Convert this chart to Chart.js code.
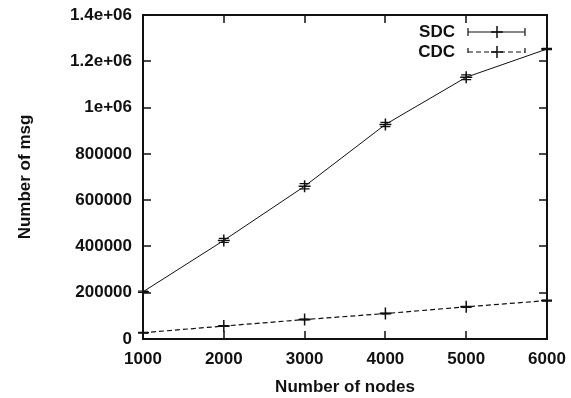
<!DOCTYPE html>
<html>
<head>
<meta charset="utf-8">
<script src="https://cdn.jsdelivr.net/npm/chart.js@4"></script>
<style>
  html, body { margin: 0; padding: 0; background: #fff; }
  #wrap { width: 571px; height: 398px; }
</style>
</head>
<body>
<div id="wrap"><canvas id="chart" width="571" height="398"></canvas></div>
<script>
// values
const nodes = [1000, 2000, 3000, 4000, 5000, 6000];
const sdcMsg = [204000, 426000, 660000, 927000, 1131000, 1253000];
const sdcErr = [3000, 9000, 11000, 9000, 10000, 3000];
const cdcMsg = [27000, 56000, 84000, 110000, 139000, 166000];
const cdcErr = [1500, 2000, 2000, 2000, 2500, 2500];
const seriesNames = ["SDC", "CDC"];
const yTickLabels = {0: "0", 200000: "200000", 400000: "400000", 600000: "600000",
  800000: "800000", 1000000: "1e+06", 1200000: "1.2e+06", 1400000: "1.4e+06"};

const FONT = "'Liberation Sans', Arial, sans-serif";
const INK = "#111";

// error bars with small caps
const errorBars = {
  id: "errorBars",
  afterDatasetsDraw(chart) {
    const {ctx, scales: {x, y}} = chart;
    const errs = [sdcErr, cdcErr];
    ctx.save();
    ctx.strokeStyle = INK;
    ctx.lineWidth = 1.2;
    chart.data.datasets.forEach((ds, i) => {
      ds.data.forEach((v, j) => {
        const px = x.getPixelForValue(nodes[j]);
        const lo = y.getPixelForValue(v - errs[i][j]);
        const hi = y.getPixelForValue(v + errs[i][j]);
        ctx.beginPath();
        ctx.moveTo(px, lo); ctx.lineTo(px, hi);
        ctx.moveTo(px - 5, lo); ctx.lineTo(px + 5, lo);
        ctx.moveTo(px - 5, hi); ctx.lineTo(px + 5, hi);
        ctx.stroke();
      });
    });
    ctx.restore();
  }
};

// box round the plot with inward ticks on all four sides, plus the legend
const frame = {
  id: "frame",
  afterDraw(chart) {
    const {ctx, chartArea: a, scales: {x, y}} = chart;
    ctx.save();
    ctx.strokeStyle = INK;
    ctx.lineWidth = 2;
    ctx.strokeRect(a.left, a.top, a.right - a.left, a.bottom - a.top);
    ctx.lineWidth = 1.5;
    ctx.beginPath();
    x.ticks.forEach(t => {
      const px = Math.round(x.getPixelForValue(t.value));
      ctx.moveTo(px, a.bottom); ctx.lineTo(px, a.bottom - 8);
      ctx.moveTo(px, a.top); ctx.lineTo(px, a.top + 8);
    });
    y.ticks.forEach(t => {
      const py = Math.round(y.getPixelForValue(t.value));
      ctx.moveTo(a.left, py); ctx.lineTo(a.left + 8, py);
      ctx.moveTo(a.right, py); ctx.lineTo(a.right - 8, py);
    });
    ctx.stroke();

    // legend
    ctx.font = "bold 17px " + FONT;
    ctx.fillStyle = INK;
    ctx.textAlign = "right";
    ctx.textBaseline = "middle";
    const x0 = 468, x1 = 525, xm = 497;
    seriesNames.forEach((name, i) => {
      const ly = 32 + i * 20;
      ctx.fillText(name, 455, ly);
      ctx.lineWidth = 1.2;
      ctx.setLineDash(i === 0 ? [] : [5, 3]);
      ctx.beginPath();
      ctx.moveTo(x0, ly); ctx.lineTo(x1, ly);
      ctx.moveTo(x0, ly - 4); ctx.lineTo(x0, ly + 4);
      ctx.moveTo(x1, ly - 4); ctx.lineTo(x1, ly + 4);
      ctx.stroke();
      ctx.setLineDash([]);
      ctx.lineWidth = 1.5;
      ctx.beginPath();
      ctx.moveTo(xm - 6, ly); ctx.lineTo(xm + 6, ly);
      ctx.moveTo(xm, ly - 6); ctx.lineTo(xm, ly + 6);
      ctx.stroke();
    });
    ctx.restore();
  }
};

new Chart(document.getElementById("chart"), {
  type: "line",
  data: {
    labels: nodes,
    datasets: [
      {
        label: seriesNames[0],
        data: sdcMsg,
        borderColor: INK,
        borderWidth: 1,
        pointStyle: "cross",
        pointRadius: 6,
        pointBorderWidth: 1.5,
        pointBorderColor: INK,
        tension: 0
      },
      {
        label: seriesNames[1],
        data: cdcMsg,
        borderColor: INK,
        borderWidth: 1.2,
        borderDash: [5, 3],
        pointStyle: "cross",
        pointRadius: 6,
        pointBorderWidth: 1.5,
        pointBorderColor: INK,
        tension: 0
      }
    ]
  },
  options: {
    responsive: false,
    animation: false,
    devicePixelRatio: 1,
    layout: { padding: { left: 0, top: 15, right: 24, bottom: 0 } },
    plugins: { legend: { display: false }, tooltip: { enabled: false } },
    scales: {
      x: {
        type: "linear",
        min: 1000,
        max: 6000,
        grid: { display: false },
        border: { display: false },
        afterFit: s => { s.height = 59; s.paddingLeft = 0; s.paddingRight = 0; },
        ticks: {
          stepSize: 1000,
          padding: 2,
          color: INK,
          maxRotation: 0,
          font: { family: FONT, size: 17, weight: "bold" },
          callback: v => String(v)
        },
        title: {
          display: true,
          text: "Number of nodes",
          color: INK,
          padding: { top: 0, bottom: 0 },
          font: { family: FONT, size: 17, weight: "bold" }
        }
      },
      y: {
        min: 0,
        max: 1400000,
        grid: { display: false },
        border: { display: false },
        afterFit: s => { s.width = 143; s.paddingTop = 0; s.paddingBottom = 0; },
        ticks: {
          stepSize: 200000,
          padding: 3,
          color: INK,
          font: { family: FONT, size: 17, weight: "bold" },
          callback: v => yTickLabels[v] ?? ""
        },
        title: {
          display: true,
          text: "Number of msg",
          color: INK,
          padding: { top: 15, bottom: 0 },
          font: { family: FONT, size: 17, weight: "bold" }
        }
      }
    }
  },
  plugins: [errorBars, frame]
});
</script>
</body>
</html>
